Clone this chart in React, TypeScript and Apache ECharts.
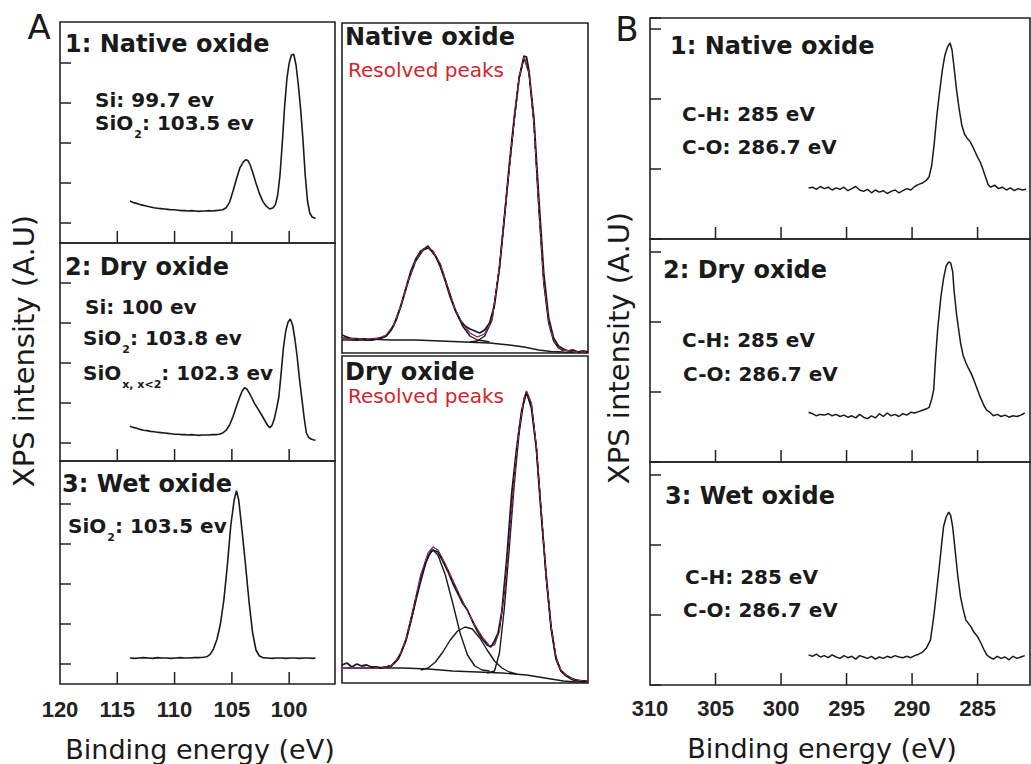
import React, { useEffect, useRef } from "react";
import * as echarts from "echarts";

// ---------- Panel A (Si 2p), left column ----------
const A1_E = [113.9, 113.6, 113.3, 113.0, 112.7, 112.4, 112.1, 111.8, 111.5, 111.2, 110.9, 110.6, 110.3, 110.0, 109.7, 109.4, 109.1, 108.8, 108.5, 108.2, 107.9, 107.6, 107.3, 107.0, 106.7, 106.4, 106.1, 105.8, 105.5, 105.2, 104.9, 104.6, 104.3, 104.0, 103.8, 103.6, 103.4, 103.2, 102.9, 102.6, 102.3, 102.0, 101.7, 101.4, 101.2, 101.0, 100.8, 100.6, 100.4, 100.2, 100.0, 99.8, 99.6, 99.4, 99.2, 99.0, 98.8, 98.6, 98.4, 98.2, 98.0, 97.7];
const A1_I = [0.55, 0.51, 0.49, 0.46, 0.44, 0.42, 0.40, 0.38, 0.37, 0.36, 0.35, 0.34, 0.33, 0.33, 0.32, 0.31, 0.31, 0.30, 0.31, 0.30, 0.29, 0.30, 0.30, 0.31, 0.30, 0.31, 0.32, 0.33, 0.38, 0.52, 0.80, 1.10, 1.38, 1.53, 1.58, 1.56, 1.45, 1.28, 1.00, 0.74, 0.54, 0.42, 0.35, 0.38, 0.46, 0.70, 1.20, 2.00, 2.90, 3.60, 4.00, 4.20, 4.22, 3.95, 3.45, 2.85, 2.10, 1.20, 0.55, 0.25, 0.15, 0.11];

const A2_E = [113.9, 113.6, 113.3, 113.0, 112.7, 112.4, 112.1, 111.8, 111.5, 111.2, 110.9, 110.6, 110.3, 110.0, 109.7, 109.4, 109.1, 108.8, 108.5, 108.2, 107.9, 107.6, 107.3, 107.0, 106.7, 106.4, 106.1, 105.8, 105.5, 105.2, 104.9, 104.6, 104.3, 104.1, 103.9, 103.7, 103.5, 103.3, 103.0, 102.7, 102.4, 102.1, 101.9, 101.7, 101.5, 101.3, 101.1, 100.9, 100.7, 100.5, 100.3, 100.1, 99.9, 99.7, 99.5, 99.3, 99.1, 98.9, 98.7, 98.5, 98.3, 98.1, 97.9, 97.7];
const A2_I = [0.42, 0.39, 0.37, 0.34, 0.32, 0.31, 0.29, 0.28, 0.27, 0.26, 0.25, 0.24, 0.23, 0.22, 0.22, 0.21, 0.21, 0.20, 0.21, 0.20, 0.19, 0.20, 0.20, 0.20, 0.21, 0.21, 0.22, 0.25, 0.32, 0.45, 0.66, 0.92, 1.16, 1.30, 1.38, 1.35, 1.26, 1.15, 0.98, 0.84, 0.70, 0.55, 0.45, 0.38, 0.44, 0.60, 0.86, 1.15, 1.75, 2.38, 2.80, 3.02, 3.10, 2.95, 2.60, 2.15, 1.60, 1.13, 0.65, 0.25, 0.14, 0.10, 0.08, 0.07];

const A3_E = [113.9, 113.5, 113.1, 112.7, 112.3, 111.9, 111.5, 111.1, 110.7, 110.3, 109.9, 109.5, 109.1, 108.7, 108.3, 107.9, 107.5, 107.2, 106.9, 106.6, 106.3, 106.0, 105.7, 105.4, 105.1, 104.8, 104.6, 104.4, 104.1, 103.8, 103.5, 103.2, 102.9, 102.6, 102.3, 101.9, 101.5, 101.1, 100.7, 100.3, 99.9, 99.5, 99.1, 98.7, 98.3, 97.9, 97.7];
const A3_I = [0.15, 0.14, 0.15, 0.16, 0.15, 0.14, 0.16, 0.15, 0.15, 0.14, 0.15, 0.16, 0.15, 0.15, 0.16, 0.16, 0.17, 0.18, 0.24, 0.38, 0.62, 1.00, 1.60, 2.45, 3.45, 4.10, 4.33, 4.10, 3.30, 2.45, 1.55, 0.80, 0.35, 0.20, 0.16, 0.15, 0.14, 0.15, 0.15, 0.14, 0.15, 0.15, 0.14, 0.15, 0.15, 0.14, 0.15];

// vertical offset of each stacked Si 2p trace (keeps the axis baseline off zero)
const A_OFFSET = 1;

// ---------- Middle column: resolved peaks ----------
const M1_DATA_E = [107.0, 106.8, 106.6, 106.4, 106.2, 106.0, 105.8, 105.6, 105.4, 105.2, 105.0, 104.8, 104.6, 104.4, 104.2, 104.0, 103.8, 103.6, 103.5, 103.4, 103.2, 103.0, 102.8, 102.6, 102.4, 102.2, 102.0, 101.8, 101.6, 101.4, 101.2, 101.0, 100.8, 100.6, 100.4, 100.2, 100.0, 99.8, 99.6, 99.5, 99.4, 99.2, 99.0, 98.8, 98.6, 98.4, 98.2, 98.0, 97.8, 97.6, 97.4, 97.2, 97.0];
const M1_DATA_I = [0.18, 0.16, 0.14, 0.13, 0.14, 0.13, 0.13, 0.14, 0.15, 0.17, 0.23, 0.33, 0.48, 0.65, 0.82, 0.94, 1.02, 1.05, 1.07, 1.03, 0.97, 0.86, 0.72, 0.56, 0.43, 0.33, 0.27, 0.24, 0.22, 0.20, 0.23, 0.30, 0.48, 0.85, 1.35, 1.88, 2.35, 2.75, 2.97, 2.96, 2.82, 2.35, 1.55, 0.80, 0.35, 0.15, 0.07, 0.04, 0.02, 0.03, 0.01, 0.02, 0.01];
const M1_FIT_E = [107.0, 106.5, 106.0, 105.5, 105.2, 104.9, 104.6, 104.3, 104.0, 103.7, 103.5, 103.3, 103.0, 102.7, 102.4, 102.1, 101.8, 101.5, 101.2, 100.9, 100.6, 100.3, 100.0, 99.8, 99.6, 99.4, 99.2, 99.0, 98.8, 98.6, 98.4, 98.2, 98.0, 97.5, 97.0];
const M1_FIT_I = [0.15, 0.14, 0.14, 0.15, 0.18, 0.28, 0.48, 0.73, 0.93, 1.04, 1.06, 1.02, 0.89, 0.66, 0.44, 0.29, 0.20, 0.16, 0.19, 0.34, 0.86, 1.61, 2.33, 2.76, 2.96, 2.81, 2.31, 1.46, 0.71, 0.31, 0.13, 0.06, 0.03, 0.01, 0.01];
const M1_BG_E = [107.0, 106.0, 105.0, 104.0, 103.0, 102.0, 101.0, 100.2, 99.6, 99.0, 98.5, 98.0, 97.0];
const M1_BG_I = [0.15, 0.14, 0.13, 0.13, 0.12, 0.11, 0.10, 0.08, 0.06, 0.03, 0.015, 0.01, 0.005];
const M1_SIO2_E = [107.0, 106.0, 105.5, 105.2, 104.9, 104.6, 104.3, 104.0, 103.7, 103.5, 103.3, 103.0, 102.7, 102.4, 102.1, 101.8, 101.5, 101.2, 101.0];
const M1_SIO2_I = [0.13, 0.13, 0.14, 0.17, 0.27, 0.47, 0.72, 0.92, 1.03, 1.05, 1.01, 0.88, 0.65, 0.43, 0.27, 0.17, 0.13, 0.12, 0.11];
const M1_SI_E = [101.8, 101.5, 101.2, 100.9, 100.6, 100.3, 100.0, 99.8, 99.6, 99.4, 99.2, 99.0, 98.8, 98.6, 98.4, 98.2, 98.0];
const M1_SI_I = [0.11, 0.12, 0.17, 0.33, 0.85, 1.60, 2.32, 2.75, 2.95, 2.80, 2.30, 1.45, 0.70, 0.30, 0.12, 0.05, 0.02];

const M2_DATA_E = [107.5, 107.3, 107.1, 106.9, 106.7, 106.5, 106.3, 106.1, 105.9, 105.7, 105.5, 105.3, 105.1, 104.9, 104.7, 104.5, 104.3, 104.1, 103.9, 103.8, 103.6, 103.4, 103.2, 103.0, 102.8, 102.6, 102.4, 102.2, 102.0, 101.8, 101.6, 101.45, 101.3, 101.15, 101.0, 100.8, 100.6, 100.4, 100.2, 100.0, 99.8, 99.6, 99.4, 99.2, 99.0, 98.8, 98.6, 98.4, 98.2, 98.0, 97.8, 97.5];
const M2_DATA_I = [0.18, 0.20, 0.16, 0.19, 0.17, 0.18, 0.16, 0.16, 0.15, 0.16, 0.17, 0.22, 0.30, 0.43, 0.62, 0.83, 1.02, 1.20, 1.31, 1.33, 1.31, 1.22, 1.12, 1.00, 0.90, 0.80, 0.73, 0.62, 0.52, 0.44, 0.38, 0.36, 0.42, 0.50, 0.72, 1.25, 1.90, 2.35, 2.72, 2.91, 2.75, 2.35, 1.68, 1.08, 0.55, 0.24, 0.12, 0.08, 0.05, 0.03, 0.02, 0.02];
const M2_FIT_E = [107.5, 107.0, 106.5, 106.0, 105.5, 105.2, 104.9, 104.6, 104.3, 104.0, 103.8, 103.6, 103.3, 103.0, 102.7, 102.4, 102.1, 101.8, 101.5, 101.3, 101.1, 100.9, 100.7, 100.5, 100.3, 100.1, 100.0, 99.8, 99.6, 99.4, 99.2, 99.0, 98.8, 98.6, 98.4, 98.2, 98.0, 97.5];
const M2_FIT_I = [0.15, 0.15, 0.15, 0.15, 0.17, 0.25, 0.44, 0.75, 1.08, 1.30, 1.36, 1.33, 1.19, 1.03, 0.87, 0.72, 0.58, 0.46, 0.37, 0.38, 0.52, 0.90, 1.45, 2.05, 2.55, 2.85, 2.92, 2.80, 2.37, 1.72, 1.07, 0.57, 0.26, 0.13, 0.08, 0.05, 0.03, 0.02];
const M2_BG_E = [107.5, 105.0, 104.0, 103.0, 102.0, 101.0, 100.0, 99.5, 99.0, 98.5, 98.0, 97.5];
const M2_BG_I = [0.15, 0.15, 0.14, 0.12, 0.11, 0.10, 0.08, 0.06, 0.04, 0.02, 0.01, 0.01];
const M2_SIO2_E = [106.0, 105.5, 105.2, 104.9, 104.6, 104.3, 104.0, 103.8, 103.6, 103.3, 103.0, 102.7, 102.4, 102.1, 101.8, 101.5];
const M2_SIO2_I = [0.15, 0.17, 0.24, 0.42, 0.72, 1.05, 1.27, 1.33, 1.28, 1.08, 0.80, 0.50, 0.28, 0.17, 0.13, 0.12];
const M2_SIOX_E = [104.3, 104.0, 103.7, 103.4, 103.1, 102.8, 102.5, 102.2, 101.9, 101.6, 101.3, 101.0, 100.7, 100.4];
const M2_SIOX_I = [0.13, 0.15, 0.21, 0.31, 0.43, 0.52, 0.56, 0.54, 0.45, 0.33, 0.22, 0.15, 0.11, 0.09];
const M2_SI_E = [101.6, 101.3, 101.1, 100.9, 100.7, 100.5, 100.3, 100.1, 100.0, 99.8, 99.6, 99.4, 99.2, 99.0, 98.8, 98.6, 98.4, 98.2, 98.0];
const M2_SI_I = [0.10, 0.12, 0.30, 0.75, 1.35, 1.98, 2.50, 2.83, 2.90, 2.78, 2.35, 1.70, 1.05, 0.55, 0.24, 0.12, 0.07, 0.04, 0.02];

// ---------- Panel B (C 1s), right column ----------
const B1_E = [297.9, 297.6, 297.3, 297.0, 296.7, 296.4, 296.1, 295.8, 295.5, 295.2, 294.9, 294.6, 294.3, 294.0, 293.7, 293.4, 293.1, 292.8, 292.5, 292.2, 291.9, 291.6, 291.3, 291.0, 290.7, 290.4, 290.1, 289.8, 289.5, 289.2, 288.9, 288.7, 288.5, 288.3, 288.1, 287.9, 287.7, 287.5, 287.3, 287.1, 286.95, 286.8, 286.6, 286.4, 286.2, 286.0, 285.8, 285.6, 285.4, 285.2, 285.0, 284.8, 284.6, 284.4, 284.2, 284.0, 283.7, 283.4, 283.1, 282.8, 282.5, 282.2, 281.9, 281.6, 281.3];
const B1_I = [0.73, 0.74, 0.71, 0.75, 0.72, 0.74, 0.70, 0.73, 0.71, 0.74, 0.69, 0.72, 0.75, 0.70, 0.68, 0.71, 0.66, 0.70, 0.67, 0.69, 0.65, 0.68, 0.70, 0.66, 0.69, 0.72, 0.70, 0.75, 0.78, 0.80, 0.84, 0.89, 1.05, 1.38, 1.78, 2.10, 2.40, 2.62, 2.74, 2.80, 2.70, 2.46, 2.12, 1.85, 1.62, 1.50, 1.44, 1.40, 1.33, 1.25, 1.17, 1.10, 1.00, 0.89, 0.78, 0.74, 0.77, 0.72, 0.74, 0.70, 0.73, 0.69, 0.72, 0.70, 0.71];

const B2_E = [297.9, 297.6, 297.3, 297.0, 296.7, 296.4, 296.1, 295.8, 295.5, 295.2, 294.9, 294.6, 294.3, 294.0, 293.7, 293.4, 293.1, 292.8, 292.5, 292.2, 291.9, 291.6, 291.3, 291.0, 290.7, 290.4, 290.1, 289.8, 289.5, 289.2, 288.9, 288.7, 288.5, 288.35, 288.2, 288.05, 287.8, 287.6, 287.4, 287.2, 287.05, 286.9, 286.8, 286.6, 286.3, 286.1, 285.9, 285.7, 285.5, 285.3, 285.1, 284.8, 284.5, 284.3, 284.0, 283.8, 283.5, 283.2, 282.9, 282.6, 282.3, 282.0, 281.7, 281.4];
const B2_I = [0.71, 0.69, 0.66, 0.68, 0.67, 0.69, 0.66, 0.68, 0.65, 0.67, 0.64, 0.66, 0.63, 0.68, 0.64, 0.62, 0.66, 0.63, 0.69, 0.65, 0.70, 0.66, 0.68, 0.65, 0.69, 0.67, 0.71, 0.70, 0.72, 0.74, 0.76, 0.78, 0.90, 1.03, 1.50, 1.89, 2.36, 2.62, 2.80, 2.86, 2.84, 2.72, 2.46, 2.10, 1.70, 1.52, 1.42, 1.34, 1.27, 1.18, 1.08, 0.93, 0.80, 0.74, 0.70, 0.66, 0.68, 0.65, 0.67, 0.64, 0.66, 0.65, 0.67, 0.70];

const B3_E = [297.9, 297.6, 297.3, 297.0, 296.7, 296.4, 296.1, 295.8, 295.5, 295.2, 294.9, 294.6, 294.3, 294.0, 293.7, 293.4, 293.1, 292.8, 292.5, 292.2, 291.9, 291.6, 291.3, 291.0, 290.7, 290.4, 290.1, 289.8, 289.5, 289.2, 288.9, 288.6, 288.35, 288.15, 287.95, 287.75, 287.6, 287.4, 287.2, 287.05, 286.9, 286.7, 286.5, 286.3, 286.1, 285.9, 285.7, 285.5, 285.3, 285.0, 284.75, 284.5, 284.3, 284.1, 283.8, 283.5, 283.2, 282.9, 282.6, 282.3, 282.0, 281.7, 281.4];
const B3_I = [0.43, 0.41, 0.44, 0.40, 0.42, 0.39, 0.43, 0.40, 0.38, 0.42, 0.39, 0.41, 0.37, 0.42, 0.40, 0.38, 0.41, 0.37, 0.40, 0.38, 0.41, 0.39, 0.42, 0.40, 0.39, 0.41, 0.39, 0.42, 0.44, 0.47, 0.53, 0.64, 0.97, 1.30, 1.64, 2.00, 2.26, 2.40, 2.47, 2.42, 2.26, 1.90, 1.54, 1.26, 1.08, 0.93, 0.88, 0.83, 0.76, 0.69, 0.60, 0.50, 0.43, 0.40, 0.37, 0.41, 0.38, 0.40, 0.36, 0.41, 0.38, 0.40, 0.42];

// ---------- axis ticks / labels ----------
const A_TICKS = [100, 105, 110, 115];
const A_LABELS = [100, 105, 110, 115, 120];
const B_TICKS = [285, 290, 295, 300, 305];
const B_LABELS = [285, 290, 295, 300, 305, 310];
const A_Y_TICKS = [1, 2, 3, 4, 5];

const zip = (e: number[], v: number[], off = 0) => e.map((x, i) => [x, v[i] + off]);

const INK = "#1a1a1a";
const TITLE_FONT = 'bold 24px "DejaVu Sans"';
const NOTE_FONT = 'bold 20px "DejaVu Sans"';
const SUB_FONT = 'bold 11px "DejaVu Sans"';
const AXNAME_FONT = '27px "DejaVu Sans"';

function measure(text: string, font: string): number {
  const ctx = document.createElement("canvas").getContext("2d");
  if (!ctx) return text.length * 10;
  ctx.font = font;
  return ctx.measureText(text).width;
}

function txt(text: string, x: number, y: number, font: string, fill = INK, align = "left", rotation = 0) {
  return {
    type: "text",
    x,
    y,
    rotation,
    silent: true,
    style: {
      text,
      font,
      fill,
      align,
      textAlign: align,
      verticalAlign: "middle",
      textVerticalAlign: "middle",
    },
  };
}

function subTxt(main: string, sub: string, rest: string, x: number, y: number) {
  const w1 = measure(main, NOTE_FONT);
  const w2 = measure(sub, SUB_FONT);
  return [
    txt(main, x, y, NOTE_FONT),
    txt(sub, x + w1 + 1, y + 11, SUB_FONT),
    txt(rest, x + w1 + w2 + 1, y, NOTE_FONT),
  ];
}

// tick segments for the bottom axis: [x, base] -> [x, base + len], broken by nulls
function tickSegments(ticks: number[], base: number, len: number) {
  const out: (number | null)[][] = [];
  ticks.forEach((t) => {
    out.push([t, base], [t, base + len], [t, null]);
  });
  return out;
}

export default function App() {
  const ref = useRef<HTMLDivElement>(null);

  useEffect(() => {
    if (!ref.current) return;
    const chart = echarts.init(ref.current, null, { renderer: "svg" });

    const grids = [
      { left: 60, top: 22, width: 275, height: 221 }, // A1
      { left: 60, top: 243, width: 275, height: 218 }, // A2
      { left: 60, top: 461, width: 275, height: 223 }, // A3
      { left: 342, top: 23, width: 246, height: 330 }, // M1
      { left: 342, top: 356, width: 246, height: 327 }, // M2
      { left: 650, top: 18, width: 380, height: 221 }, // B1
      { left: 650, top: 239, width: 380, height: 223 }, // B2
      { left: 650, top: 462, width: 380, height: 223 }, // B3
    ].map((g) => ({ ...g, show: true, borderColor: "#222", borderWidth: 1.6, backgroundColor: "transparent" }));

    const tickLabelStyle = {
      fontFamily: '"Liberation Sans", Arial, sans-serif',
      fontWeight: "bold" as const,
      fontSize: 22,
      color: "#222",
    };

    const xAxisOf = (gi: number, min: number, max: number, labels: number[] | null, margin: number) => ({
      type: "value",
      gridIndex: gi,
      position: "bottom",
      min,
      max,
      inverse: true,
      axisLine: { show: false, onZero: false },
      splitLine: { show: false },
      axisTick: { show: false },
      axisLabel: labels ? { show: true, customValues: labels, margin, ...tickLabelStyle } : { show: false },
    });

    const yA = (gi: number, min: number, max: number) => ({
      type: "value",
      gridIndex: gi,
      min,
      max,
      axisLine: { show: false, onZero: false },
      splitLine: { show: false },
      axisTick: { show: true, inside: true, length: 11, customValues: A_Y_TICKS, lineStyle: { color: "#222", width: 1.5 } },
      axisLabel: { show: false },
    });
    const yB = (gi: number, max: number) => ({
      type: "value",
      gridIndex: gi,
      min: 0,
      max,
      interval: 1,
      axisLine: { show: false, onZero: false },
      splitLine: { show: false },
      axisTick: { show: true, inside: true, length: 11, lineStyle: { color: "#222", width: 1.5 } },
      axisLabel: { show: false },
    });
    const yM = (gi: number, max: number) => ({
      type: "value",
      gridIndex: gi,
      min: 0,
      max,
      axisLine: { show: false, onZero: false },
      splitLine: { show: false },
      axisTick: { show: false },
      axisLabel: { show: false },
    });

    const line = (gi: number, data: any[], color: string, width: number, dashed = false, z = 2) => ({
      type: "line",
      xAxisIndex: gi,
      yAxisIndex: gi,
      data,
      showSymbol: false,
      symbol: "none",
      silent: true,
      connectNulls: false,
      clip: false,
      z,
      lineStyle: { color, width, type: dashed ? [5, 3] : "solid" },
    });

    const RED = "#d0262e";
    const BLUE = "#2a2ab8";
    const TICK = "#222";

    const series: any[] = [
      line(0, zip(A1_E, A1_I, A_OFFSET), INK, 1.6),
      line(1, zip(A2_E, A2_I, A_OFFSET), INK, 1.6),
      line(2, zip(A3_E, A3_I, A_OFFSET), INK, 1.6),
      // middle native
      line(3, zip(M1_BG_E, M1_BG_I), INK, 1.4),
      line(3, zip(M1_SIO2_E, M1_SIO2_I), INK, 1.4),
      line(3, zip(M1_SI_E, M1_SI_I), INK, 1.4),
      line(3, zip(M1_FIT_E, M1_FIT_I), BLUE, 1.2, false, 3),
      line(3, zip(M1_DATA_E, M1_DATA_I), INK, 1.8, false, 4),
      line(3, zip(M1_FIT_E, M1_FIT_I), RED, 1.0, true, 5),
      // middle dry
      line(4, zip(M2_BG_E, M2_BG_I), INK, 1.4),
      line(4, zip(M2_SIO2_E, M2_SIO2_I), INK, 1.4),
      line(4, zip(M2_SIOX_E, M2_SIOX_I), INK, 1.4),
      line(4, zip(M2_SI_E, M2_SI_I), INK, 1.4),
      line(4, zip(M2_FIT_E, M2_FIT_I), BLUE, 1.2, false, 3),
      line(4, zip(M2_DATA_E, M2_DATA_I), INK, 1.8, false, 4),
      line(4, zip(M2_FIT_E, M2_FIT_I), RED, 1.0, true, 5),
      // B
      line(5, zip(B1_E, B1_I), INK, 1.5),
      line(6, zip(B2_E, B2_I), INK, 1.5),
      line(7, zip(B3_E, B3_I), INK, 1.5),
      // bottom x ticks (12 px, inward): A scale 40 px / unit, B scale 70 px / unit
      line(0, tickSegments(A_TICKS, 0.5, 0.3), TICK, 1.5, false, 6),
      line(1, tickSegments(A_TICKS, 0.55, 0.3), TICK, 1.5, false, 6),
      line(2, tickSegments(A_TICKS, 0.5, 0.3), TICK, 1.5, false, 6),
      line(5, tickSegments(B_TICKS, 0, 0.17), TICK, 1.5, false, 6),
      line(6, tickSegments(B_TICKS, 0, 0.17), TICK, 1.5, false, 6),
      line(7, tickSegments(B_TICKS, 0, 0.17), TICK, 1.5, false, 6),
    ];

    const graphics: any[] = [
      txt("A", 39, 27, '34px "DejaVu Sans"', INK, "center"),
      txt("B", 627, 29, '34px "DejaVu Sans"', INK, "center"),
      // A titles and notes
      txt("1: Native oxide", 65, 44, TITLE_FONT),
      txt("Si: 99.7 ev", 95, 100, NOTE_FONT),
      ...subTxt("SiO", "2", ": 103.5 ev", 95, 123),
      txt("2: Dry oxide", 65, 267, TITLE_FONT),
      txt("Si: 100 ev", 85, 307, NOTE_FONT),
      ...subTxt("SiO", "2", ": 103.8 ev", 83, 338),
      ...subTxt("SiO", "x, x<2", ": 102.3 ev", 83, 373),
      txt("3: Wet oxide", 62, 484, TITLE_FONT),
      ...subTxt("SiO", "2", ": 103.5 ev", 68, 526),
      // middle
      txt("Native oxide", 345, 37, TITLE_FONT),
      txt("Resolved peaks", 348, 70, '20px "DejaVu Sans"', RED),
      txt("Dry oxide", 345, 372, TITLE_FONT),
      txt("Resolved peaks", 348, 396, '20px "DejaVu Sans"', RED),
      // B titles and notes
      txt("1: Native oxide", 670, 46, TITLE_FONT),
      txt("C-H: 285 eV", 682, 114, NOTE_FONT),
      txt("C-O: 286.7 eV", 682, 147, NOTE_FONT),
      txt("2: Dry oxide", 663, 270, TITLE_FONT),
      txt("C-H: 285 eV", 682, 340, NOTE_FONT),
      txt("C-O: 286.7 eV", 683, 374, NOTE_FONT),
      txt("3: Wet oxide", 665, 496, TITLE_FONT),
      txt("C-H: 285 eV", 685, 577, NOTE_FONT),
      txt("C-O: 286.7 eV", 683, 610, NOTE_FONT),
      // axis names
      txt("Binding energy (eV)", 200, 749, AXNAME_FONT, INK, "center"),
      txt("Binding energy (eV)", 822, 748, AXNAME_FONT, INK, "center"),
      txt("XPS intensity (A.U)", 24, 351, '29px "DejaVu Sans"', INK, "center", Math.PI / 2),
      txt("XPS intensity (A.U)", 619, 348, '29px "DejaVu Sans"', INK, "center", Math.PI / 2),
    ];

    chart.setOption({
      animation: false,
      backgroundColor: "#ffffff",
      grid: grids,
      xAxis: [
        xAxisOf(0, 96, 120, null, 14),
        xAxisOf(1, 96, 120, null, 14),
        xAxisOf(2, 96, 120, A_LABELS, 14),
        xAxisOf(3, 97, 107, null, 14),
        xAxisOf(4, 97.5, 107.5, null, 14),
        xAxisOf(5, 281, 310, null, 12),
        xAxisOf(6, 281, 310, null, 12),
        xAxisOf(7, 281, 310, B_LABELS, 12),
      ],
      yAxis: [
        yA(0, 0.5, 6.025),
        yA(1, 0.55, 6.0),
        yA(2, 0.5, 6.075),
        yM(3, 3.3),
        yM(4, 3.27),
        yB(5, 3.157),
        yB(6, 3.186),
        yB(7, 3.186),
      ],
      series,
      graphic: { elements: graphics },
    });

    return () => chart.dispose();
  }, []);

  return (
    <div
      ref={ref}
      style={{ position: "absolute", left: 0, top: 0, width: 1031, height: 764, background: "#fff" }}
    />
  );
}
